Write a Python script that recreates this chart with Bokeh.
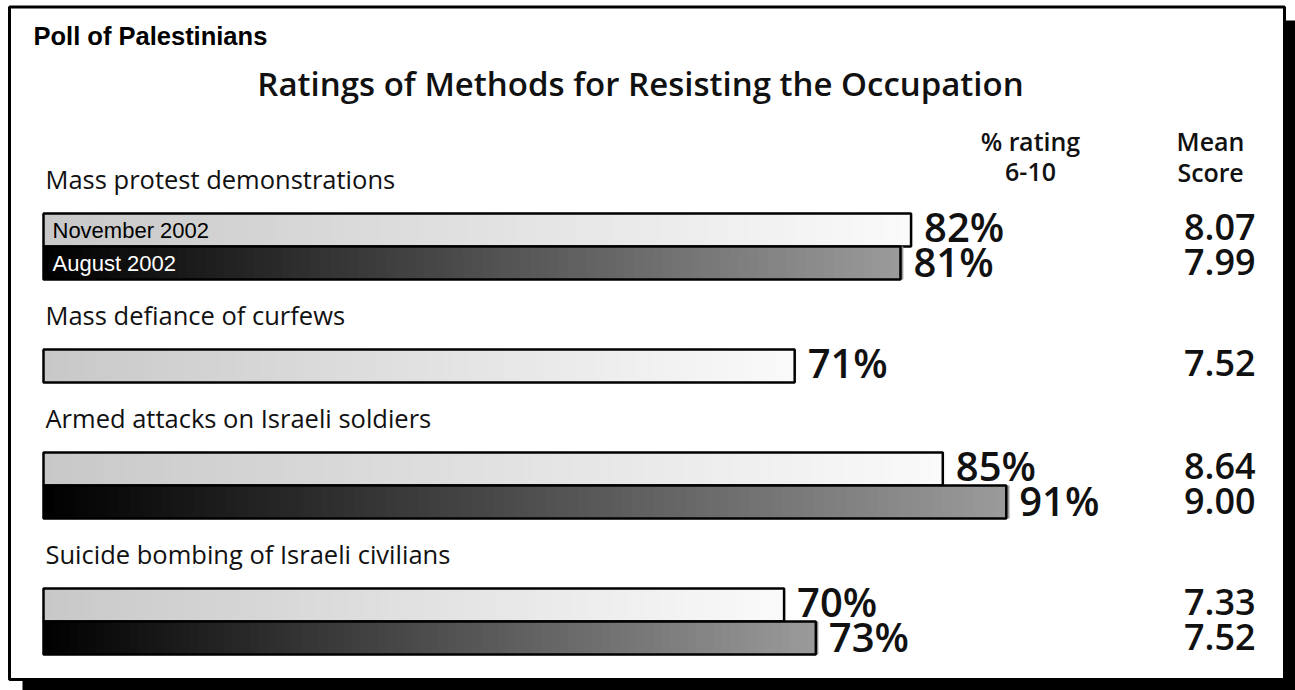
from bokeh.plotting import figure
from bokeh.models import Range1d, ColumnDataSource
from bokeh.core.properties import value
from bokeh.embed import file_html
from bokeh.resources import INLINE

# ---------------- data ----------------
subtitle = "Poll of Palestinians"
title = "Ratings of Methods for Resisting the Occupation"
categories = [
    "Mass protest demonstrations",
    "Mass defiance of curfews",
    "Armed attacks on Israeli soldiers",
    "Suicide bombing of Israeli civilians",
]
series_names = ["November 2002", "August 2002"]
nov_pct = [82, 71, 85, 70]
aug_pct = [81, None, 91, 73]
nov_mean = [8.07, 7.52, 8.64, 7.33]
aug_mean = [7.99, None, 9.00, 7.52]
header_pct = ["% rating", "6-10"]
header_mean = ["Mean", "Score"]

# ---------------- layout (screen pixels) ----------------
W, H = 1295, 690
M = 0              # offset of the figure on the screenshot
X0 = 43            # screen x of bar origin
PPU = 10.58        # pixels per percent
BH = 33            # bar height
FIRST_TOP = 213
GROUP_GAP = 70
LABEL_OFF = 35

HUM = "Open Sans"
SEMI = "Open Sans SemiBold, Open Sans"
ARIAL = "Liberation Sans"


def sx(xs):
    return (xs - X0) / PPU


def sy(ys):
    return ys - M


p = figure(width=W, height=H, x_range=Range1d(sx(M), sx(M + W)),
           y_range=Range1d(H, 0), output_backend="svg", toolbar_location=None,
           x_axis_type=None, y_axis_type=None, min_border=0)
p.grid.visible = False
p.outline_line_color = None
p.background_fill_color = "white"
p.border_fill_color = "white"

# frame with drop shadow
p.quad(left=[sx(22)], right=[sx(1300)], top=[sy(20)], bottom=[sy(695)],
       fill_color="black", line_color=None)
p.quad(left=[sx(9)], right=[sx(1284)], top=[sy(6.5)], bottom=[sy(679)],
       fill_color="white", line_color="black", line_width=3)

# texts: subtitle and title
p.text(x=[sx(33)], y=[sy(35)], text=[subtitle], text_font=value(ARIAL),
       text_font_style="bold", text_font_size="25.5px", text_baseline="middle",
       text_color="black")
p.text(x=[sx(640)], y=[sy(82.5)], text=[title], text_font=value(SEMI),
       text_font_size="33px", text_align="center",
       text_baseline="middle", text_color="#111111")

# column headers
for i, t in enumerate(header_pct):
    p.text(x=[sx(1030)], y=[sy(140 + 31 * i)], text=[t], text_font=value(SEMI),
           text_font_size="25px", text_align="center",
           text_baseline="middle", text_color="#111111")
for i, t in enumerate(header_mean):
    p.text(x=[sx(1210)], y=[sy(140 + 31 * i)], text=[t], text_font=value(SEMI),
           text_font_size="25px", text_align="center",
           text_baseline="middle", text_color="#111111")


def gradient_bar(val, ytop, c0, c1, n=90):
    lefts, rights, cols = [], [], []
    for k in range(n):
        lefts.append(val * k / n)
        rights.append(val * (k + 1) / n + (val / n) * 0.3)
        fm = (k + 0.5) / n
        g = int(round(c0 + (c1 - c0) * fm))
        cols.append("#%02x%02x%02x" % (g, g, g))
    src = ColumnDataSource(dict(left=lefts, right=rights, color=cols))
    p.quad(left="left", right="right", top=sy(ytop), bottom=sy(ytop + BH),
           fill_color="color", line_color=None, source=src)
    p.quad(left=[0], right=[val], top=[sy(ytop)], bottom=[sy(ytop + BH)],
           fill_color=None, line_color="black", line_width=2.5)


top = FIRST_TOP
for gi, cat in enumerate(categories):
    p.text(x=[sx(45)], y=[sy(top - LABEL_OFF)], text=[cat], text_font=value(HUM),
           text_font_size="25.5px", text_baseline="middle", text_color="#111111")
    rows = [(nov_pct[gi], nov_mean[gi], 200, 250, 0, -4.0, -3.5),
            (aug_pct[gi], aug_mean[gi], 0, 155, 1, -1.5, -1.0)]
    r = 0
    for val, mean, c0, c1, si, dp, dm in rows:
        if val is None:
            continue
        ytop = top + r * BH
        yc = ytop + BH / 2
        gradient_bar(val, ytop, c0, c1)
        p.text(x=[val + 13 / PPU], y=[sy(yc + dp)], text=["%d%%" % val],
               text_font=value(SEMI), text_font_size="40px",
               text_baseline="middle", text_color="#111111")
        p.text(x=[sx(1255)], y=[sy(yc + dm)], text=["%.2f" % mean],
               text_font=value(SEMI), text_font_size="36px",
               text_align="right", text_baseline="middle", text_color="#111111")
        if gi == 0:
            p.text(x=[sx(52)], y=[sy(yc)], text=[series_names[si]],
                   text_font=value(ARIAL), text_font_size="22px",
                   text_baseline="middle",
                   text_color="black" if si == 0 else "white")
        r += 1
    top += r * BH + GROUP_GAP

open("out.html", "w").write(file_html(p, INLINE))
